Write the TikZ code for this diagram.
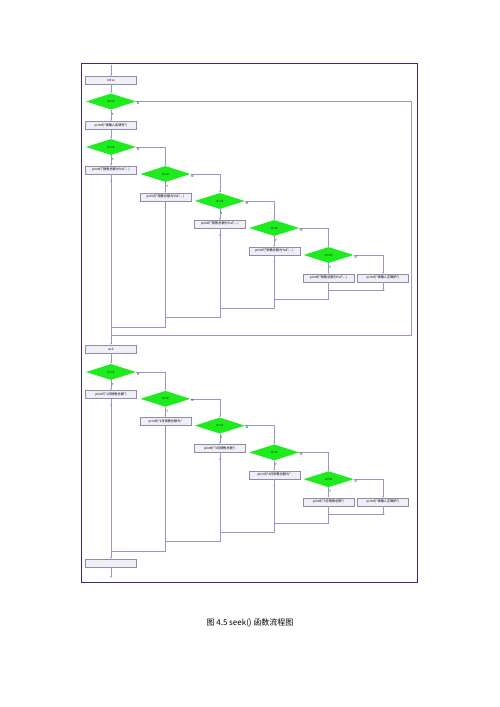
\documentclass[tikz,border=0pt]{standalone}
\usepackage{fontspec}
\newfontfamily\cjk{Noto Sans CJK SC}
\usetikzlibrary{shapes.geometric,arrows.meta,decorations.markings}

\definecolor{flowline}{RGB}{150,150,200}
\definecolor{boxedge}{RGB}{140,140,175}
\definecolor{boxfill}{RGB}{240,240,244}
\definecolor{decgreen}{RGB}{30,235,30}
\definecolor{framecol}{RGB}{45,45,140}

\tikzset{
  procbox/.style={draw=boxedge, fill=boxfill, minimum width=51pt, minimum height=8pt, inner sep=0.5pt, font=\cjk\fontsize{3.2}{3.5}\selectfont},
  decision/.style={diamond, fill=decgreen, minimum width=50pt, minimum height=16pt, inner sep=0pt, font=\cjk\fontsize{3}{3.5}\selectfont},
  flow/.style={draw=flowline, line width=0.5pt},
  arr/.style={flow, -{Stealth[length=2pt,width=1.6pt]}},
  midarr/.style={postaction={decorate, decoration={markings,
      mark=at position 8pt with {\arrow[flowline]{Stealth[length=2pt,width=1.6pt]}}}}},
  yn/.style={font=\cjk\fontsize{3}{3.5}\selectfont, inner sep=0.6pt}
}

\begin{document}
\begin{tikzpicture}[x=1pt,y=-1pt]
\useasboundingbox (0,0) rectangle (500,707);
\draw[framecol, line width=0.9pt] (81,63) rectangle (417,582);
\draw[framecol, line width=1.3pt] (81.5,582.5) -- (417.5,582.5) -- (417.5,63.5);

% start and first test
\coordinate (begin) at (111,65);
\node[procbox] (init) at (111,80.5) {int a;};
\node[decision] (test) at (111,101.5) {a==1};
\node[procbox] (ask) at (111,125.5) {printf("请输入店铺号")};
\draw[arr] (begin) -- (init);
\draw[arr] (init) -- (test);
\draw[arr] (test) -- node[yn,right,pos=0.4]{Y} (ask);
\coordinate (loopR) at (411,335);
\coordinate (loopL) at (111,335);
\draw[flow] (test.east) node[yn,below right]{N} -| (loopR) -- (loopL);

% upper switch
\foreach \i [evaluate=\i as \x using 111+(\i-1)*54.4,
             evaluate=\i as \y using 147+(\i-1)*27] in {1,...,5}{
  \node[decision] (a\i) at (\x,\y) {n==\i};
  \node[procbox] (pa\i) at (\x,\y+23) {printf("销售总额为\%d",...)};
  \draw[arr] (a\i) -- node[yn,right,pos=0.4]{Y} (pa\i);
  \coordinate (ma\i) at (\x,{327-(\i-1)*9.3});
}
\node[procbox] (pa6) at (383,278) {printf("请输入正确的")};
\foreach \i [evaluate=\i as \j using int(\i+1)] in {1,...,4}
  \draw[arr] (a\i.east) node[yn,below right]{N} -| (a\j.north);
\draw[arr] (a5.east) node[yn,below right]{N} -| (pa6.north);
\foreach \i [evaluate=\i as \j using int(\i+1)] in {1,...,5}
  \draw[flow, midarr] (pa\j.south) |- (ma\i);
\draw[arr] (ask) -- (a1);

% lower switch
\node[procbox] (setk) at (111,349) {a=2};
\draw[arr, midarr] (pa1) -- (setk);
\foreach \i/\txt [evaluate=\i as \x using 111+(\i-1)*54.4,
                  evaluate=\i as \y using 372+(\i-1)*26.8] in
    {1/{printf("1月销售总额")}, 2/{printf("2月销售总额为"}, 3/{printf("3月销售总额")},
     4/{printf("4月销售总额为"}, 5/{printf("5月销售总额")}}{
  \node[decision] (b\i) at (\x,\y) {n==\i};
  \node[procbox] (pb\i) at (\x,\y+22.5) {\txt};
  \draw[arr] (b\i) -- node[yn,right,pos=0.4]{Y} (pb\i);
  \coordinate (mb\i) at (\x,{551-(\i-1)*9.3});
}
\node[procbox] (pb6) at (383,502) {printf("请输入正确的")};
\foreach \i [evaluate=\i as \j using int(\i+1)] in {1,...,4}
  \draw[arr] (b\i.east) node[yn,below right]{N} -| (b\j.north);
\draw[arr] (b5.east) node[yn,below right]{N} -| (pb6.north);
\foreach \i [evaluate=\i as \j using int(\i+1)] in {1,...,5}
  \draw[flow, midarr] (pb\j.south) |- (mb\i);
\draw[arr] (setk) -- (b1);

% end
\node[procbox] (finish) at (111,563) {};
\coordinate (end) at (111,578);
\draw[arr, midarr] (pb1) -- (finish);
\draw[arr] (finish) -- (end);

\node[font=\cjk\fontsize{8}{10}\selectfont] (caption) at (250,623) {图 4.5 seek() 函数流程图};
\end{tikzpicture}
\end{document}
